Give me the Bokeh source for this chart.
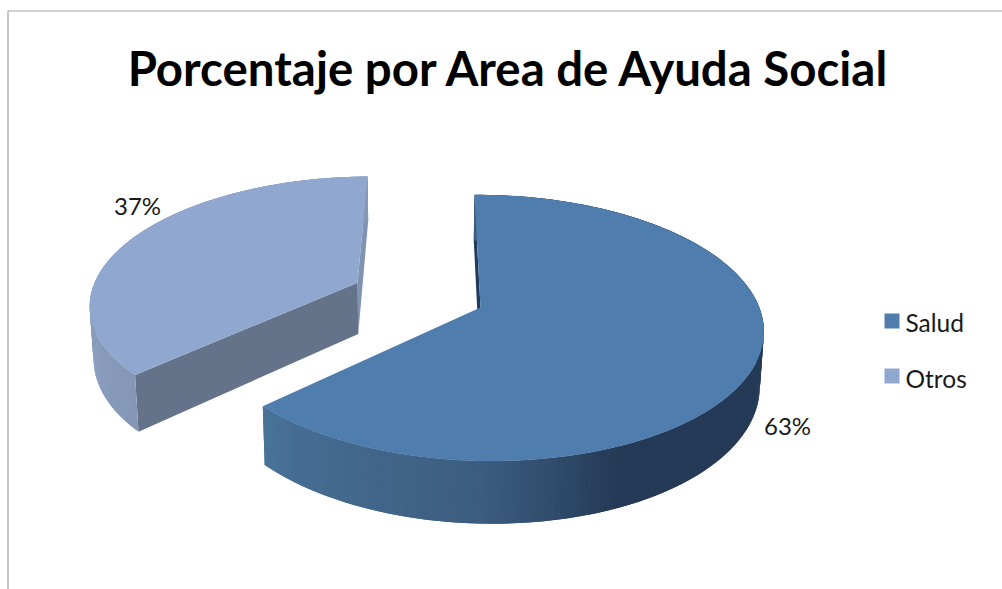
import numpy as np
from bokeh.plotting import figure
from bokeh.embed import file_html
from bokeh.resources import INLINE
from bokeh.models import Range1d
from bokeh.core.properties import value

# data
categories = ["Salud", "Otros"]
percentages = [63, 37]
title_text = "Porcentaje por Area de Ayuda Social"

# colours
TOP = ["#4e7dae", "#90a8cf"]
WALL = ["#1f3a5a", "#64738a"]
END_WALL = ["#1f3a5a", "#8093b3"]
SIDE_X = [265, 300, 400, 480, 540, 590, 620]
SIDE_R = [0x4a, 0x45, 0x41, 0x3c, 0x34, 0x29, 0x24]
SIDE_G = [0x73, 0x6d, 0x64, 0x5d, 0x50, 0x42, 0x3a]
SIDE_B = [0x99, 0x93, 0x87, 0x80, 0x71, 0x60, 0x56]

# projection of the tilted disc
X0, Y0 = 480.0, 307.0
C, D_X = 0.1536, -0.01
A, B, S = 276.0, 130.0, -7.0
DEPTH, VP_X, VP_K = 53.0, 420.0, 0.988
EXPLODE = 0.497


def project(u, v):
    w = 1 + C * v + D_X * u
    return X0 + (A * u + S * v) / w, Y0 - B * v / w, w


def lower(x, y, w):
    return VP_X + (x - VP_X) * VP_K, y + DEPTH / w


def hexcol(r, g, b):
    return "#%02x%02x%02x" % (int(r), int(g), int(b))


p = figure(width=1002, height=589, toolbar_location=None, output_backend="svg",
           x_range=Range1d(0, 1002), y_range=Range1d(589, 0),
           min_border=0, outline_line_color=None, background_fill_color="white")
p.axis.visible = False
p.grid.visible = False

# chart-area border
p.line([7.5, 7.5, 1002], [589, 10.5, 10.5], line_color="#a3a3a3", line_width=1.2)

total = sum(percentages)
fractions = [v / total for v in percentages]
a1 = 2 * np.pi * fractions[0]
ranges = [(0.0, a1), (a1, 2 * np.pi)]
mid = (ranges[1][0] + ranges[1][1]) / 2
offsets = [(0.0, 0.0), (EXPLODE * np.sin(mid), EXPLODE * np.cos(mid))]


def rim(i, n=240):
    t = np.linspace(ranges[i][0], ranges[i][1], n)
    return project(np.sin(t) + offsets[i][0], np.cos(t) + offsets[i][1])


for i in [1, 0]:
    ou, ov = offsets[i]
    ax, ay, aw = project(ou, ov)
    abx, aby = lower(ax, ay, aw)
    rx, ry, rw = rim(i)
    bx, by = lower(rx, ry, rw)

    # radial walls
    if i == 0:
        p.patch([rx[0], ax, abx, bx[0]], [ry[0], ay, aby, by[0]], fill_color=END_WALL[i], line_color=None)
    else:
        p.patch([rx[-1], ax, abx, bx[-1]], [ry[-1], ay, aby, by[-1]], fill_color=END_WALL[i], line_color=None)
        p.patch([rx[0], ax, abx, bx[0]], [ry[0], ay, aby, by[0]], fill_color=WALL[i], line_color=None)

    # outer side as thin overlapping strips, for the shading
    xs, ys, cols = [], [], []
    last = len(rx) - 1
    for k in range(last):
        k2 = min(k + 2, last)
        xs.append([rx[k], rx[k2], bx[k2], bx[k]])
        ys.append([ry[k], ry[k2], by[k2], by[k]])
        xm = (rx[k] + rx[k + 1]) / 2
        if i == 0:
            cols.append(hexcol(np.interp(xm, SIDE_X, SIDE_R), np.interp(xm, SIDE_X, SIDE_G), np.interp(xm, SIDE_X, SIDE_B)))
        else:
            f = np.clip((xm - 88) / 50, 0, 1)
            cols.append(hexcol(0x8a - 6 * f, 0x9d - 6 * f, 0xbd - 6 * f))
    p.patches(xs, ys, fill_color=cols, line_color=None)

    # top face
    p.patch(list(rx) + [ax], list(ry) + [ay], fill_color=TOP[i], line_color=None)

# texts
p.text([509], [67], text=[title_text], text_font=value("Lato"), text_font_style="bold",
       text_font_size="47.4px", text_color="#000000", text_align="center", text_baseline="alphabetic")
p.text([787], [425], text=[f"{percentages[0]}%"], text_font=value("Lato"), text_font_size="24px",
       text_color="#1a1a1a", text_align="center", text_baseline="alphabetic")
p.text([137], [205], text=[f"{percentages[1]}%"], text_font=value("Lato"), text_font_size="24px",
       text_color="#1a1a1a", text_align="center", text_baseline="alphabetic")

# legend
p.quad(left=[884, 884], right=[899, 899], top=[313, 368], bottom=[328, 383], fill_color=TOP, line_color=None)
p.text([905, 905], [322, 378], text=categories, text_font=value("Lato"), text_font_size="24.5px",
       text_color="#1a1a1a", text_align="left", text_baseline="alphabetic")

open("out.html", "w").write(file_html(p, INLINE))
